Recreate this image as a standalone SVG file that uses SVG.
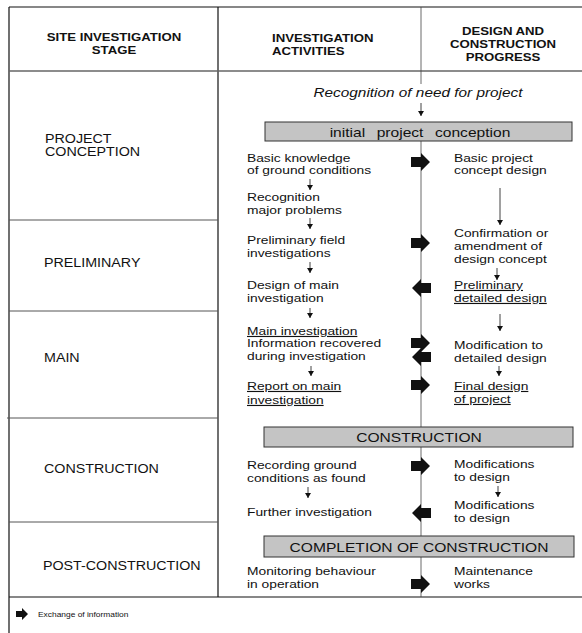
<svg xmlns="http://www.w3.org/2000/svg" width="582" height="633" viewBox="0 0 582 633">
<defs>
<style>
text{font-family:"Liberation Sans",Arial,sans-serif;fill:#111;}
.t{font-size:11.5px;}
.s{font-size:11.9px;}
.b{font-size:13px;}
.h{font-size:11px;font-weight:bold;}
.c{text-anchor:middle;}
.i{font-size:12.8px;font-style:italic;}
.u{text-decoration:underline;}
.lg{font-size:7px;}
.grid{stroke:#111;stroke-width:1.2;fill:none;}
.row{stroke:#555;stroke-width:1;}
.mid{stroke:#444;stroke-width:0.8;}
.bar{fill:#c4c4c4;stroke:#333;stroke-width:1;}
.sa{stroke:#111;stroke-width:0.8;marker-end:url(#ah);}
.xa{fill:#111;}
</style>
<marker id="ah" markerWidth="6" markerHeight="6" refX="5" refY="3" orient="auto" markerUnits="userSpaceOnUse">
<path d="M0,0 L5,3 L0,6 Z" fill="#111"/>
</marker>
<path id="xr" d="M-10,-5 H0 V-9 L9,0 L0,9 V5 H-10 Z"/>
<path id="xl" d="M10,-5 H0 V-9 L-9,0 L0,9 V5 H10 Z"/>
</defs>

<g id="table">
<line class="grid" x1="9" y1="7" x2="582" y2="7"/>
<line class="grid" x1="9" y1="7" x2="9" y2="633"/>
<line class="grid" x1="218" y1="7" x2="218" y2="597"/>
<line x1="9" y1="71" x2="582" y2="71" stroke="#666" stroke-width="1.6"/>
<line class="grid" x1="9" y1="597" x2="582" y2="597"/>
<line class="row" x1="9" y1="220" x2="218" y2="220"/>
<line class="row" x1="9" y1="311" x2="218" y2="311"/>
<line class="row" x1="7" y1="418" x2="218" y2="418"/>
<line class="row" x1="9" y1="522" x2="218" y2="522"/>
<line class="mid" x1="421" y1="7" x2="421" y2="84"/>
<line class="mid" x1="421" y1="141" x2="421" y2="427"/>
<line class="mid" x1="421" y1="447" x2="421" y2="536"/>
<line class="mid" x1="421" y1="557" x2="421" y2="597"/>
</g>

<g id="header">
<text class="h c" transform="translate(114,41) scale(1.2,1)">SITE INVESTIGATION<tspan x="0" dy="13">STAGE</tspan></text>
<text class="h" transform="translate(272,42) scale(1.2,1)">INVESTIGATION<tspan x="0" dy="13">ACTIVITIES</tspan></text>
<text class="h c" transform="translate(503,35) scale(1.2,1)">DESIGN AND<tspan x="0" dy="13">CONSTRUCTION</tspan><tspan x="0" dy="13">PROGRESS</tspan></text>
</g>

<g id="stages">
<text class="s" transform="translate(45,143) scale(1.2,1)">PROJECT<tspan x="0" dy="13">CONCEPTION</tspan></text>
<text class="s" transform="translate(44,267) scale(1.2,1)">PRELIMINARY</text>
<text class="s" transform="translate(44,362) scale(1.2,1)">MAIN</text>
<text class="s" transform="translate(44,473) scale(1.2,1)">CONSTRUCTION</text>
<text class="s" transform="translate(43,570) scale(1.2,1)">POST-CONSTRUCTION</text>
</g>

<g id="recognition">
<text class="i c" transform="translate(418,97) scale(1.2,1)">Recognition of need for project</text>
</g>

<g id="bar-initial">
<rect class="bar" x="265" y="122" width="307" height="19"/>
<text class="b c" transform="translate(420,136.5) scale(1.2,1)" word-spacing="6">initial project conception</text>
</g>
<g id="bar-construction">
<rect class="bar" x="264" y="427" width="309" height="20"/>
<text class="b c" transform="translate(419,442) scale(1.2,1)">CONSTRUCTION</text>
</g>
<g id="bar-completion">
<rect class="bar" x="264" y="536" width="310" height="21"/>
<text class="b c" transform="translate(419,551.5) scale(1.2,1)">COMPLETION OF CONSTRUCTION</text>
</g>

<g id="left">
<text class="t" transform="translate(247,162) scale(1.2,1)">Basic knowledge<tspan x="0" dy="12">of ground conditions</tspan></text>
<text class="t" transform="translate(247,201) scale(1.2,1)">Recognition<tspan x="0" dy="13">major problems</tspan></text>
<text class="t" transform="translate(247,244) scale(1.2,1)">Preliminary field<tspan x="0" dy="13">investigations</tspan></text>
<text class="t" transform="translate(247,289) scale(1.2,1)">Design of main<tspan x="0" dy="13">investigation</tspan></text>
<text class="t" transform="translate(247,335) scale(1.2,1)"><tspan class="u">Main investigation</tspan><tspan x="0" dy="12">Information recovered</tspan><tspan x="0" dy="13">during investigation</tspan></text>
<text class="t u" transform="translate(247,390) scale(1.2,1)">Report on main<tspan x="0" dy="14">investigation</tspan></text>
<text class="t" transform="translate(247,469) scale(1.2,1)">Recording ground<tspan x="0" dy="13">conditions as found</tspan></text>
<text class="t" transform="translate(247,516) scale(1.2,1)">Further investigation</text>
<text class="t" transform="translate(247,575) scale(1.2,1)">Monitoring behaviour<tspan x="0" dy="13">in operation</tspan></text>
</g>

<g id="right">
<text class="t" transform="translate(454,162) scale(1.2,1)">Basic project<tspan x="0" dy="12">concept design</tspan></text>
<text class="t" transform="translate(454,237) scale(1.2,1)">Confirmation or<tspan x="0" dy="13">amendment of</tspan><tspan x="0" dy="13">design concept</tspan></text>
<text class="t u" transform="translate(454,289) scale(1.2,1)">Preliminary<tspan x="0" dy="13">detailed design</tspan></text>
<text class="t" transform="translate(454,349) scale(1.2,1)">Modification to<tspan x="0" dy="13">detailed design</tspan></text>
<text class="t u" transform="translate(454,390) scale(1.2,1)">Final design<tspan x="0" dy="13">of project</tspan></text>
<text class="t" transform="translate(454,468) scale(1.2,1)">Modifications<tspan x="0" dy="13">to design</tspan></text>
<text class="t" transform="translate(454,509) scale(1.2,1)">Modifications<tspan x="0" dy="13">to design</tspan></text>
<text class="t" transform="translate(454,575) scale(1.2,1)">Maintenance<tspan x="0" dy="13">works</tspan></text>
</g>

<g id="connectors">
<line class="sa" x1="421" y1="103" x2="421" y2="116"/>
<line class="sa" x1="310" y1="179" x2="310" y2="190"/>
<line class="sa" x1="310" y1="218" x2="310" y2="229"/>
<line class="sa" x1="310" y1="262" x2="310" y2="273"/>
<line class="sa" x1="310" y1="308" x2="310" y2="318"/>
<line class="sa" x1="311" y1="366" x2="311" y2="376"/>
<line class="sa" x1="308" y1="487" x2="308" y2="498"/>
<line class="sa" x1="500" y1="188" x2="500" y2="225"/>
<line class="sa" x1="497" y1="268" x2="497" y2="280"/>
<line class="sa" x1="500" y1="314" x2="500" y2="331"/>
<line class="sa" x1="499" y1="366" x2="499" y2="376"/>
<line class="sa" x1="498" y1="486" x2="498" y2="497"/>
<g class="xa">
<use href="#xr" x="421" y="162"/>
<use href="#xr" x="421" y="243"/>
<use href="#xl" x="421" y="288"/>
<use href="#xr" x="421" y="343"/>
<use href="#xl" x="421" y="357"/>
<use href="#xr" x="421" y="385"/>
<use href="#xr" x="421" y="466"/>
<use href="#xl" x="421" y="513"/>
<use href="#xr" x="421" y="584"/>
</g>
</g>

<g id="legend">
<path class="xa" d="M16,611 H22 V608 L28,614 L22,620 V617 H16 Z"/>
<text class="lg" transform="translate(38,617) scale(1.2,1)">Exchange of information</text>
</g>
</svg>
